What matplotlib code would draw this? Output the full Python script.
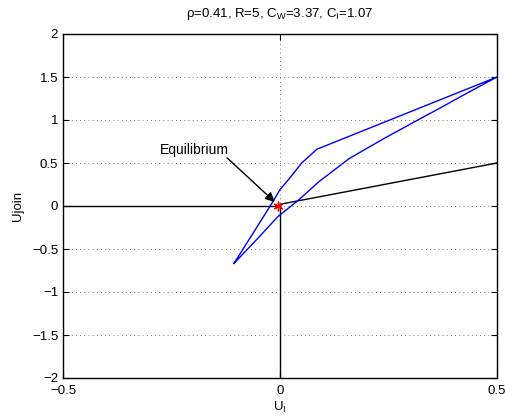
import numpy as np
import matplotlib.pyplot as plt

plt.rcParams['font.family'] = ['Liberation Sans', 'DejaVu Sans']

# blue trajectory (closed loop): upper branch then lower branch back
upper_x = [-0.106, -0.06, -0.019, 0.0, 0.02, 0.05, 0.085, 0.5]
upper_y = [-0.667, -0.30, 0.03, 0.19, 0.31, 0.50, 0.66, 1.5]
lower_x = [-0.106, -0.05, -0.005, 0.043, 0.089, 0.159, 0.2, 0.245, 0.314, 0.369, 0.43, 0.5]
lower_y = [-0.667, -0.37, -0.124, 0.07, 0.28, 0.55, 0.67, 0.80, 0.99, 1.14, 1.31, 1.5]

# black nullcline pieces
null_h_x = [-0.5, 0.0]
null_h_y = [0.0, 0.0]
null_v_x = [0.0, 0.0]
null_v_y = [0.0, -2.0]
null_d_x = [0.0, 0.5]
null_d_y = [0.02, 0.5]

eq_x, eq_y = -0.004, 0.0

xticks = [-0.5, 0, 0.5]
yticks = [-2, -1.5, -1, -0.5, 0, 0.5, 1, 1.5, 2]

fig = plt.figure(figsize=(5.05, 4.2), dpi=100)
ax = fig.add_axes([63 / 505, 1 - 378 / 420, 434 / 505, 344 / 420])

ax.plot(null_h_x, null_h_y, 'k', lw=1)
ax.plot(null_v_x, null_v_y, 'k', lw=1)
ax.plot(null_d_x, null_d_y, 'k', lw=1)

loop_x = upper_x + lower_x[::-1]
loop_y = upper_y + lower_y[::-1]
ax.plot(loop_x, loop_y, color='#0000ff', lw=1)

ax.plot(eq_x, eq_y, marker=(6, 2, 0), color='red', ms=7, mew=1)

ax.annotate('', xy=(-0.012, 0.047), xytext=(-0.122, 0.56),
            arrowprops=dict(arrowstyle='-|>', color='k', lw=1,
                            mutation_scale=14, shrinkA=0, shrinkB=0))
ax.text(-0.198, 0.65, 'Equilibrium', fontsize=10, ha='center', va='center')

ax.set_xlim(-0.5, 0.5)
ax.set_ylim(-2, 2)
ax.set_xticks(xticks)
ax.set_yticks(yticks)
ax.set_xticklabels(['\u22120.5', '0', '0.5'])
ax.set_yticklabels(['\u22122', '\u22121.5', '\u22121', '\u22120.5', '0', '0.5', '1', '1.5', '2'])
ax.tick_params(direction='in', top=True, right=True, length=4, labelsize=9.5)
ax.tick_params(axis='x', pad=5)
ax.grid(True, color='0.3', linestyle=(0, (1, 4)), linewidth=0.6)
for s in ax.spines.values():
    s.set_linewidth(1)

ax.set_title('\u03c1=0.41, R=5, C$_\\mathregular{W}$=3.37, C$_\\mathregular{I}$=1.07',
             fontsize=9.5, pad=12)
ax.set_xlabel(r'U$_\mathregular{I}$', fontsize=9.5, labelpad=2)
ax.set_ylabel('Ujoin', fontsize=9.5, labelpad=6)

plt.savefig('out.png', dpi=100)
plt.close()
